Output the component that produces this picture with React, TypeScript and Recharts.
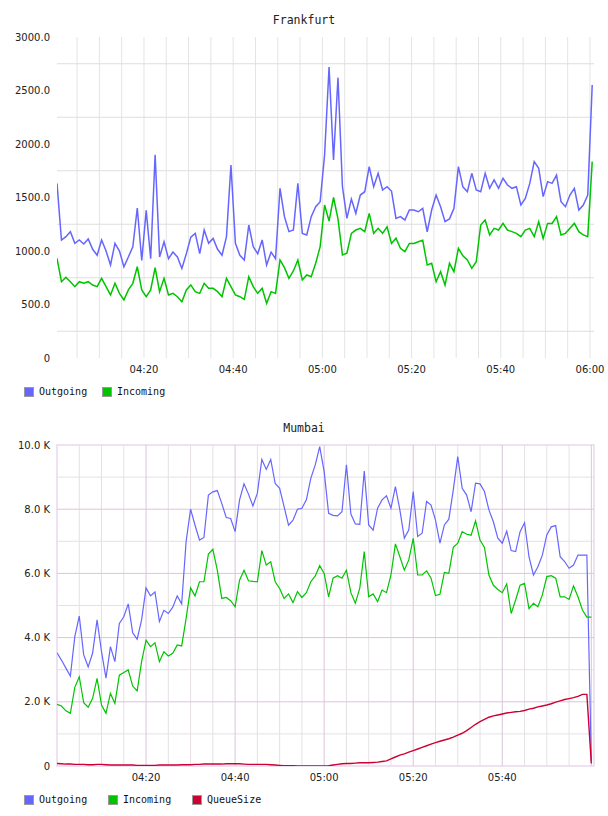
import React from "react";
import { LineChart, Line, XAxis, YAxis, ReferenceLine, ReferenceArea } from "recharts";

// ---------- shared axis data ----------
const timeTicks = [20, 40, 60, 80, 100, 120];
const timeLabels = ["04:20", "04:40", "05:00", "05:20", "05:40", "06:00"];
const mumbaiTimeTicks = [20, 40, 60, 80, 100];
const minorMinutes = [5, 10, 15, 25, 30, 35, 45, 50, 55, 65, 70, 75, 85, 90, 95, 105, 110, 115];
const majorMinutes = [20, 40, 60, 80, 100, 120];

// ---------- Frankfurt ----------
const frankfurtStartMinute = 0.5;
const frankfurtOutgoing = [
  1632, 1103, 1134, 1180, 1072, 1103, 1066, 1113, 1016, 960,
  1103, 1000, 869, 1072, 1000, 853, 944, 1040, 1402, 912,
  1380, 928, 1900, 944, 1087, 928, 990, 944, 837, 975,
  1130, 1165, 975, 1196, 1072, 1118, 1016, 960, 1134, 1804,
  1072, 960, 916, 1243, 1040, 975, 1103, 869, 990, 928,
  1586, 1321, 1181, 1196, 1632, 1165, 1150, 1321, 1414, 1461,
  1900, 2720, 1850, 2620, 1601, 1305, 1486, 1352, 1523, 1554,
  1788, 1601, 1726, 1570, 1601, 1560, 1305, 1321, 1290, 1383,
  1383, 1367, 1399, 1180, 1383, 1523, 1414, 1274, 1300, 1399,
  1788, 1600, 1554, 1726, 1570, 1554, 1726, 1586, 1664, 1586,
  1680, 1617, 1586, 1601, 1430, 1492, 1632, 1835, 1773, 1508,
  1648, 1632, 1710, 1461, 1414, 1523, 1586, 1383, 1430, 1523,
  2551,
];
const frankfurtIncoming = [
  932, 713, 754, 713, 667, 713, 698, 713, 682, 667,
  745, 667, 589, 698, 604, 542, 636, 698, 853, 636,
  573, 636, 844, 620, 745, 589, 604, 573, 526, 636,
  683, 620, 604, 698, 651, 651, 620, 573, 745, 667,
  589, 573, 548, 760, 667, 604, 651, 511, 620, 604,
  916, 844, 745, 813, 916, 729, 776, 760, 885, 1040,
  1430, 1280, 1500, 1300, 963, 979, 1165, 1196, 1212, 1181,
  1352, 1165, 1212, 1165, 1227, 1071, 1120, 1025, 994, 1071,
  1071, 1087, 1100, 869, 885, 713, 807, 682, 885, 807,
  1025, 955, 916, 838, 900, 1243, 1290, 1150, 1212, 1196,
  1258, 1196, 1181, 1165, 1134, 1196, 1212, 1134, 1274, 1118,
  1258, 1258, 1321, 1150, 1165, 1212, 1258, 1181, 1150, 1134,
  1835,
];
const frankfurtYTicks = [0, 500, 1000, 1500, 2000, 2500, 3000];
const frankfurtGridValues = [250, 750, 1250, 1750, 2250, 2750];

// ---------- Mumbai ----------
const mumbaiStartMinute = 0;
const mumbaiOutgoing = [
  3530, 3300, 3050, 2800, 4030, 4670, 3460, 3090, 3520, 4550,
  3560, 2740, 3720, 3250, 4440, 4650, 5050, 4150, 3950, 4550,
  5550, 5300, 5420, 4500, 4850, 4750, 4950, 5300, 5050, 7000,
  8000, 7500, 7040, 7120, 8440, 8540, 8580, 8180, 7740, 7710,
  7300, 8290, 8790, 8470, 8100, 8500, 9550, 9240, 9550, 8800,
  8650, 8080, 7500, 7660, 8000, 8030, 8290, 8960, 9380, 9950,
  9170, 7870, 7810, 7790, 7920, 9380, 7850, 7540, 7530, 9190,
  7510, 7350, 8030, 8290, 8420, 8030, 8700, 7980, 7100, 7350,
  8550, 7150, 7250, 8240, 8130, 7660, 6940, 7510, 7690, 8600,
  9640, 8650, 8440, 7920, 8810, 8790, 8550, 7980, 7610, 7100,
  6940, 7320, 6710, 6680, 7300, 7580, 6520, 5950, 6210, 6570,
  7200, 7450, 7490, 6520, 6370, 6160, 6260, 6570, 6570, 6570,
  150,
];
const mumbaiIncoming = [
  1920, 1870, 1720, 1640, 2450, 2780, 1970, 1830, 2110, 2730,
  1900, 1640, 2260, 1950, 2830, 2910, 2990, 2490, 2340, 3250,
  3920, 3720, 3840, 3250, 3560, 3430, 3510, 3770, 3740, 4600,
  5550, 5300, 5740, 5740, 6600, 6750, 6100, 5220, 5250, 5150,
  4960, 5790, 6100, 5770, 5750, 5740, 6710, 6260, 6360, 5740,
  5530, 5220, 5360, 5090, 5430, 5250, 5400, 5740, 5920, 6240,
  6000, 5270, 5850, 5930, 5850, 6100, 5400, 5070, 5540, 6680,
  5270, 5360, 5120, 5480, 5400, 5950, 6920, 6520, 6100, 6420,
  7090, 5950, 5950, 6080, 5850, 5310, 5350, 6030, 6000, 6810,
  6940, 7300, 7220, 7190, 7640, 7040, 6810, 5950, 5630, 5500,
  5400, 5670, 4750, 5170, 5630, 5690, 4900, 5070, 4960, 5330,
  5900, 5930, 5850, 5270, 5270, 5190, 5610, 5270, 4860, 4640,
  4640,
];
const mumbaiQueueSize = [
  80, 70, 60, 60, 50, 50, 50, 40, 40, 50,
  50, 40, 30, 30, 30, 30, 30, 30, 20, 20,
  20, 20, 20, 30, 30, 30, 30, 30, 40, 40,
  40, 50, 50, 60, 60, 60, 60, 60, 70, 70,
  70, 70, 60, 50, 50, 50, 50, 50, 40, 30,
  20, 10, 10, 10, 0, 0, 0, 0, 0, 0,
  0, 10, 30, 50, 70, 80, 80, 90, 100, 100,
  100, 110, 120, 140, 160, 220, 280, 340, 380, 430,
  480, 530, 580, 630, 680, 730, 770, 810, 850, 900,
  960, 1020, 1100, 1200, 1300, 1380, 1450, 1520, 1560, 1590,
  1620, 1650, 1670, 1690, 1700, 1730, 1770, 1800, 1840, 1870,
  1900, 1940, 1990, 2030, 2070, 2100, 2130, 2170, 2230, 2230,
  80,
];
const mumbaiYTicks = [0, 2000, 4000, 6000, 8000, 10000];
const mumbaiMajorValues = [2000, 4000, 6000, 8000];
const mumbaiMinorValues = [1000, 3000, 5000, 7000, 9000];

// ---------- styles ----------
const BLUE = "#6666ff";
const GREEN = "#00c400";
const RED = "#cc0033";
const TICK_FONT = { fontFamily: "DejaVu Sans", fontSize: 10, fill: "#222" };
const MONO = "'DejaVu Sans Mono', monospace";

const frankfurtData = frankfurtOutgoing.map((v, i) => ({
  t: frankfurtStartMinute + i,
  outgoing: v,
  incoming: frankfurtIncoming[i],
}));

const mumbaiData = mumbaiOutgoing.map((v, i) => ({
  t: mumbaiStartMinute + i,
  outgoing: v,
  incoming: mumbaiIncoming[i],
  queue: mumbaiQueueSize[i],
}));

const fmtTime = (ticks: number[]) => (v: number) => timeLabels[timeTicks.indexOf(v)] ?? "";

function LegendRow({ items, top }: { items: { label: string; color: string; x: number }[]; top: number }) {
  return (
    <>
      {items.map((it) => (
        <div key={it.label} style={{ position: "absolute", left: it.x, top, display: "flex", alignItems: "center" }}>
          <div
            style={{
              width: 8,
              height: 8,
              background: it.color,
              border: "1px solid #9a9a9a",
            }}
          />
          <span
            style={{
              marginLeft: 5,
              fontFamily: MONO,
              fontSize: 10,
              color: "#111",
              lineHeight: "10px",
            }}
          >
            {it.label}
          </span>
        </div>
      ))}
    </>
  );
}

function Title({ text, top }: { text: string; top: number }) {
  return (
    <div
      style={{
        position: "absolute",
        left: 0,
        width: 608,
        top,
        textAlign: "center",
        fontFamily: MONO,
        fontSize: 11.5,
        color: "#222",
        lineHeight: "14px",
      }}
    >
      {text}
    </div>
  );
}

export default function App() {
  return (
    <div style={{ position: "absolute", left: 0, top: 0, width: 608, height: 816, background: "#fff" }}>
      <Title text="Frankfurt" top={13} />
      <div style={{ position: "absolute", left: 0, top: 0 }}>
        <LineChart width={608} height={410} data={frankfurtData} margin={{ top: 37, right: 14, bottom: 22, left: 0 }}>
          {minorMinutes.concat(majorMinutes).map((m) => (
            <ReferenceLine key={"v" + m} x={m} stroke="#e4e4e4" strokeWidth={1} ifOverflow="hidden" />
          ))}
          {frankfurtGridValues.map((v) => (
            <ReferenceLine key={"h" + v} y={v} stroke="#dedede" strokeWidth={1} />
          ))}
          <XAxis
            dataKey="t"
            type="number"
            domain={[0.5, 120.9]}
            ticks={timeTicks}
            interval={0}
            tickFormatter={fmtTime(timeTicks)}
            axisLine={false}
            tickLine={false}
            tick={TICK_FONT}
            tickSize={2}
            tickMargin={6}
            height={30}
            allowDataOverflow
          />
          <YAxis
            type="number"
            domain={[0, 3000]}
            ticks={frankfurtYTicks}
            interval={0}
            tickFormatter={(v: number) => (v === 0 ? "0" : v.toFixed(1))}
            axisLine={false}
            tickLine={false}
            tick={TICK_FONT}
            tickSize={6}
            tickMargin={1}
            width={57}
            allowDataOverflow
          />
          <Line type="linear" dataKey="outgoing" stroke={BLUE} strokeWidth={1.5} dot={false} isAnimationActive={false} />
          <Line type="linear" dataKey="incoming" stroke={GREEN} strokeWidth={1.5} dot={false} isAnimationActive={false} />
        </LineChart>
      </div>
      <LegendRow
        top={387}
        items={[
          { label: "Outgoing", color: BLUE, x: 24 },
          { label: "Incoming", color: GREEN, x: 102 },
        ]}
      />

      <Title text="Mumbai" top={421} />
      <div style={{ position: "absolute", left: 0, top: 408 }}>
        <LineChart width={608} height={410} data={mumbaiData} margin={{ top: 37, right: 14, bottom: 22, left: 0 }}>
          {minorMinutes.map((m) => (
            <ReferenceLine key={"mv" + m} x={m} stroke="#e6e0e6" strokeWidth={1} />
          ))}
          {mumbaiMinorValues.map((v) => (
            <ReferenceLine key={"mh" + v} y={v} stroke="#e6e0e6" strokeWidth={1} />
          ))}
          {majorMinutes.map((m) => (
            <ReferenceLine key={"Mv" + m} x={m} stroke="#dcc4dc" strokeWidth={1} />
          ))}
          {mumbaiMajorValues.map((v) => (
            <ReferenceLine key={"Mh" + v} y={v} stroke="#dcc4dc" strokeWidth={1} />
          ))}
          <ReferenceArea x1={0} x2={120.6} y1={0} y2={10000} fill="none" stroke="#ead8ee" strokeWidth={1.5} />
          <XAxis
            dataKey="t"
            type="number"
            domain={[0, 120.6]}
            ticks={mumbaiTimeTicks}
            interval={0}
            tickFormatter={fmtTime(mumbaiTimeTicks)}
            axisLine={false}
            tickLine={false}
            tick={TICK_FONT}
            tickSize={2}
            tickMargin={6}
            height={30}
            allowDataOverflow
          />
          <YAxis
            type="number"
            domain={[0, 10000]}
            ticks={mumbaiYTicks}
            interval={0}
            tickFormatter={(v: number) => (v === 0 ? "0" : (v / 1000).toFixed(1) + " K")}
            axisLine={false}
            tickLine={false}
            tick={TICK_FONT}
            tickSize={6}
            tickMargin={1}
            width={57}
            allowDataOverflow
          />
          <Line type="linear" dataKey="outgoing" stroke={BLUE} strokeWidth={1.2} dot={false} isAnimationActive={false} />
          <Line type="linear" dataKey="incoming" stroke={GREEN} strokeWidth={1.2} dot={false} isAnimationActive={false} />
          <Line type="linear" dataKey="queue" stroke={RED} strokeWidth={1.4} dot={false} isAnimationActive={false} />
        </LineChart>
      </div>
      <LegendRow
        top={795}
        items={[
          { label: "Outgoing", color: BLUE, x: 24 },
          { label: "Incoming", color: GREEN, x: 108 },
          { label: "QueueSize", color: RED, x: 192 },
        ]}
      />
    </div>
  );
}
